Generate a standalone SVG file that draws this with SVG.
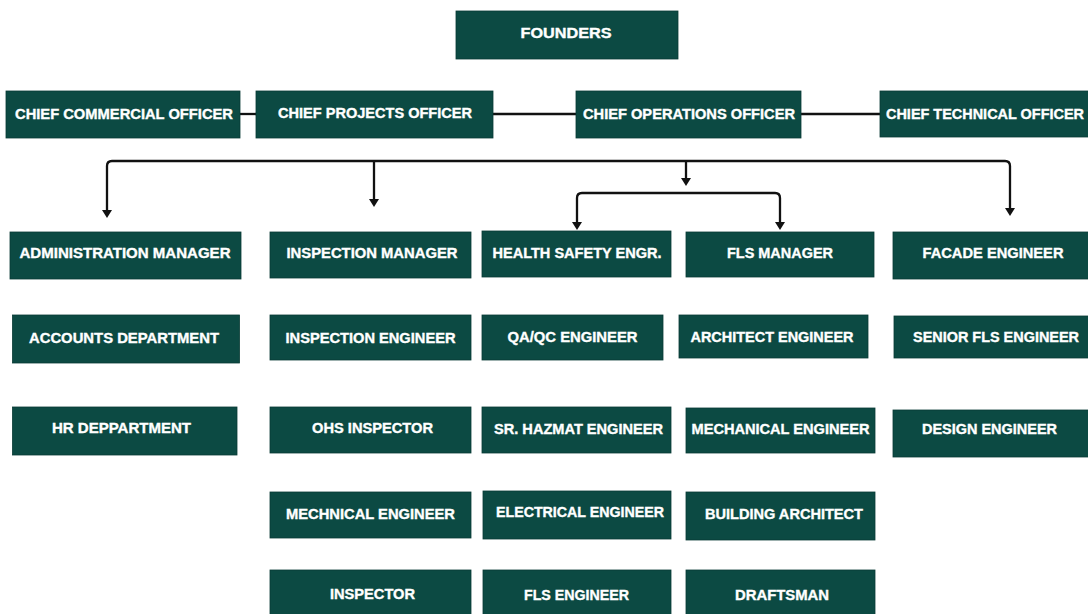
<svg xmlns="http://www.w3.org/2000/svg" width="1088" height="614" viewBox="0 0 1088 614">
<defs>
<style>
.box{fill:#0c4a43;stroke:#093b35;stroke-width:0.8}
.lbl{fill:#ffffff;stroke:#ffffff;stroke-width:0.35;font-family:"Liberation Sans",Arial,sans-serif;font-weight:bold;font-size:14px;text-anchor:middle}
.conn{fill:none;stroke:#111111;stroke-width:2.3}
.arr{marker-end:url(#ah)}
.arr2{marker-start:url(#ah);marker-end:url(#ah)}
</style>
<marker id="ah" markerUnits="userSpaceOnUse" viewBox="0 0 8 10" markerWidth="8" markerHeight="10" refX="2" refY="5" orient="auto-start-reverse">
<path d="M0,0 L8,5 L0,10 z" fill="#111111"/>
</marker>
</defs>
<rect width="1088" height="614" fill="#ffffff"/>

<g id="connectors">
<path class="conn" d="M240 114 H256"/>
<path class="conn" d="M493 114 H576"/>
<path class="conn" d="M801 114 H880"/>
<path class="conn arr2" d="M107 212 V166 Q107 161 112 161 H1005 Q1010 161 1010 166 V210"/>
<path class="conn arr" d="M374 161 V201"/>
<path class="conn arr" d="M686 161 V180"/>
<path class="conn arr2" d="M577 224 V198 Q577 193 582 193 H775 Q780 193 780 198 V224"/>
</g>

<g id="founders"><rect class="box" x="456" y="11" width="222" height="48"/><text class="lbl" x="566" y="38" textLength="91" lengthAdjust="spacingAndGlyphs">FOUNDERS</text></g>

<g id="cco"><rect class="box" x="6" y="91" width="234" height="47"/><text class="lbl" x="124" y="119" textLength="218" lengthAdjust="spacingAndGlyphs">CHIEF COMMERCIAL OFFICER</text></g>
<g id="cpo"><rect class="box" x="256" y="91" width="237" height="47"/><text class="lbl" x="375" y="118" textLength="194" lengthAdjust="spacingAndGlyphs">CHIEF PROJECTS OFFICER</text></g>
<g id="coo"><rect class="box" x="576" y="91" width="225" height="47"/><text class="lbl" x="689" y="119" textLength="212" lengthAdjust="spacingAndGlyphs">CHIEF OPERATIONS OFFICER</text></g>
<g id="cto"><rect class="box" x="880" y="91" width="210" height="46"/><text class="lbl" x="985" y="119" textLength="198" lengthAdjust="spacingAndGlyphs">CHIEF TECHNICAL OFFICER</text></g>

<g id="admin-manager"><rect class="box" x="10" y="232" width="231" height="47"/><text class="lbl" x="125" y="258" textLength="211" lengthAdjust="spacingAndGlyphs">ADMINISTRATION MANAGER</text></g>
<g id="inspection-manager"><rect class="box" x="270" y="232" width="201" height="46"/><text class="lbl" x="372" y="258" textLength="171" lengthAdjust="spacingAndGlyphs">INSPECTION MANAGER</text></g>
<g id="health-safety"><rect class="box" x="482" y="231" width="189" height="46"/><text class="lbl" x="577" y="258" textLength="169" lengthAdjust="spacingAndGlyphs">HEALTH SAFETY ENGR.</text></g>
<g id="fls-manager"><rect class="box" x="686" y="232" width="188" height="45"/><text class="lbl" x="780" y="258" textLength="106" lengthAdjust="spacingAndGlyphs">FLS MANAGER</text></g>
<g id="facade-engineer"><rect class="box" x="893" y="232" width="197" height="47"/><text class="lbl" x="993" y="258" textLength="141" lengthAdjust="spacingAndGlyphs">FACADE ENGINEER</text></g>

<g id="accounts"><rect class="box" x="12.5" y="315" width="227" height="48"/><text class="lbl" x="124" y="343" textLength="190" lengthAdjust="spacingAndGlyphs">ACCOUNTS DEPARTMENT</text></g>
<g id="inspection-engineer"><rect class="box" x="270" y="315" width="201" height="45"/><text class="lbl" x="370.5" y="342.5" textLength="170" lengthAdjust="spacingAndGlyphs">INSPECTION ENGINEER</text></g>
<g id="qaqc"><rect class="box" x="482" y="315" width="181" height="45"/><text class="lbl" x="572.5" y="341.5" textLength="130" lengthAdjust="spacingAndGlyphs">QA/QC ENGINEER</text></g>
<g id="architect-engineer"><rect class="box" x="679" y="315" width="189" height="43"/><text class="lbl" x="772" y="341.5" textLength="163" lengthAdjust="spacingAndGlyphs">ARCHITECT ENGINEER</text></g>
<g id="senior-fls"><rect class="box" x="894" y="316" width="196" height="42"/><text class="lbl" x="996" y="341.5" textLength="166" lengthAdjust="spacingAndGlyphs">SENIOR FLS ENGINEER</text></g>

<g id="hr"><rect class="box" x="12.5" y="407" width="224.5" height="48"/><text class="lbl" x="121.5" y="433" textLength="139" lengthAdjust="spacingAndGlyphs">HR DEPPARTMENT</text></g>
<g id="ohs"><rect class="box" x="270" y="407" width="201" height="46"/><text class="lbl" x="372.5" y="433" textLength="121" lengthAdjust="spacingAndGlyphs">OHS INSPECTOR</text></g>
<g id="hazmat"><rect class="box" x="482" y="407" width="189" height="46"/><text class="lbl" x="578.5" y="434" textLength="169" lengthAdjust="spacingAndGlyphs">SR. HAZMAT ENGINEER</text></g>
<g id="mechanical-engineer"><rect class="box" x="686" y="408" width="189" height="45"/><text class="lbl" x="780.5" y="434" textLength="178" lengthAdjust="spacingAndGlyphs">MECHANICAL ENGINEER</text></g>
<g id="design-engineer"><rect class="box" x="893" y="410" width="197" height="47"/><text class="lbl" x="989.5" y="434" textLength="135" lengthAdjust="spacingAndGlyphs">DESIGN ENGINEER</text></g>

<g id="mechnical-engineer"><rect class="box" x="270" y="492" width="201" height="46"/><text class="lbl" x="370.5" y="519" textLength="169" lengthAdjust="spacingAndGlyphs">MECHNICAL ENGINEER</text></g>
<g id="electrical-engineer"><rect class="box" x="483" y="491" width="188" height="48"/><text class="lbl" x="580" y="517" textLength="168" lengthAdjust="spacingAndGlyphs">ELECTRICAL ENGINEER</text></g>
<g id="building-architect"><rect class="box" x="686" y="492" width="189" height="48"/><text class="lbl" x="784" y="519" textLength="158" lengthAdjust="spacingAndGlyphs">BUILDING ARCHITECT</text></g>

<g id="inspector"><rect class="box" x="270" y="570" width="201" height="46"/><text class="lbl" x="372.5" y="599" textLength="85" lengthAdjust="spacingAndGlyphs">INSPECTOR</text></g>
<g id="fls-engineer"><rect class="box" x="483" y="570" width="188" height="46"/><text class="lbl" x="576.5" y="600" textLength="105" lengthAdjust="spacingAndGlyphs">FLS ENGINEER</text></g>
<g id="draftsman"><rect class="box" x="686" y="570" width="189" height="46"/><text class="lbl" x="782" y="600" textLength="94" lengthAdjust="spacingAndGlyphs">DRAFTSMAN</text></g>
</svg>
